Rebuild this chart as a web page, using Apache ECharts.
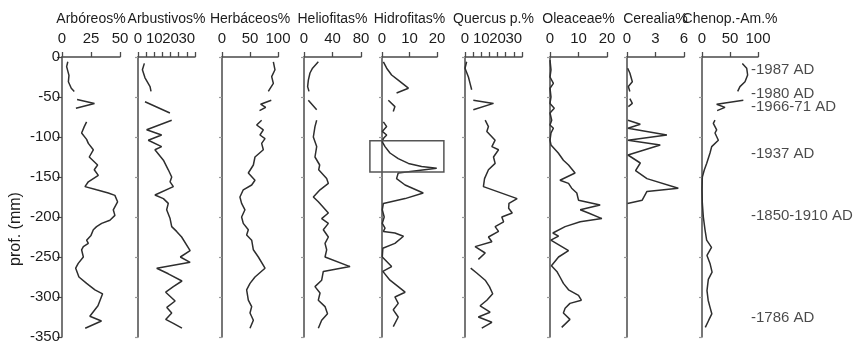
<!DOCTYPE html>
<html>
<head>
<meta charset="utf-8">
<script src="https://cdn.jsdelivr.net/npm/echarts@6/dist/echarts.min.js"></script>
<style>html,body{margin:0;padding:0;background:#fff;}#c{width:859px;height:349px;}</style>
</head>
<body>
<div id="c"></div>
<script>
// ---- DATA: [depth (mm), percentage]; null = gap in the record ----
const arboreos = [
[-6,5],[-12,4],[-23,6],[-31,5.5],[-39,8],[-43,10.6], null,
[-53,13],[-58,28],[-64,12], null,
[-81,21.2],[-87,19.2],[-95,16.9],[-103,21.2],[-108,22.7],[-116,27],[-125,23.5],[-135,30.7],[-141,27.8],[-148,31.3],[-156,22.7],[-162,19.8],[-166,29.8],[-170,39.9],[-173,45.6],[-181,47.9],[-191,44.2],[-198,45.6],[-204,41.3],[-208,34.2],[-212,29.8],[-216,27],[-223,25],[-229,21.2],[-233,22.7],[-237,18.4],[-241,16.9],[-250,18.4],[-258,14],[-264,11.8],[-275,14.6],[-283,21.2],[-291,28.4],[-296,35],[-311,31],[-324,24],[-330,34],[-339,20]
];
const arbustivos = [
[-8,3.9],[-16,2.7],[-26,4.3],[-37,7.4],[-43,8], null,
[-56,4.3],[-70,19.6], null,
[-79,20.7],[-91,5.3],[-97.5,14.5],[-104,6.3],[-112,14.5],[-116,10.4],[-129,15.6],[-141,18.6],[-150,20.7],[-156,19.7],[-162,21.7],[-172.5,10.4],[-177,15.6],[-183,18.6],[-191,17.6],[-202,19.7],[-212,20.7],[-218,23.7],[-225,26.8],[-242,32],[-250,26],[-256.7,32],[-264,11.5],[-271,18.6],[-280,27],[-287,21.7],[-294,17],[-305,22.8],[-313,17.7],[-320,20.7],[-328,17],[-333,21.7],[-339,27]
];
const herbaceos = [
[-6,91.7],[-16,94.6],[-24.6,88.7],[-33,91.7],[-43,82.7], null,
[-54,88],[-59,69],[-63,78],[-67,67], null,
[-79,70.8],[-85,61.9],[-91,73.8],[-97.5,67.8],[-102,76.8],[-108,70.8],[-116,73.8],[-125,58.9],[-135,56],[-145,47],[-154,58.9],[-160,53],[-166,38],[-175,32],[-183,35],[-191,41],[-200,35],[-208,38],[-216,47],[-222.5,44],[-229,53],[-241,56],[-250,64.9],[-264,76.8],[-275,58.9],[-283,50],[-291,44],[-304,47],[-312,53],[-320,50],[-329,56],[-339,50]
];
const heliofitas = [
[-6,20.1],[-14,12],[-20,8.4],[-29,6.1],[-37,5.1],[-43,7], null,
[-54,6.1],[-66,17.8], null,
[-79,17.8],[-87,15.4],[-100,13.1],[-112,17.8],[-125,15.4],[-135,22],[-141,20.6],[-152,31.8],[-158,34.2],[-166,22.5],[-175,13.1],[-181,20.1],[-195,34.2],[-202,24.8],[-208,34.2],[-216,27.1],[-225,34.2],[-233,29.5],[-241,31.8],[-250,29.5],[-262,64.6],[-268,27.1],[-279,24.8],[-287,15.4],[-295,22.5],[-304,20.1],[-312,29.5],[-321,33],[-329,24.8],[-339,20.1]
];
const hidrofitas = [
[-6,0.5],[-14,1.7],[-22.5,3.5],[-29,5.9],[-39,9.6],[-45,5.3], null,
[-54,2.3],[-62,4.7],[-68,4.1], null,
[-81,0.5],[-87,1.7],[-93,0.1],[-97.5,1.7],[-102,0.5],[-106,0.1],[-112,1.1],[-120,2.9],[-127,5.9],[-133,9.6],[-137,14.4],[-139,19.9],[-145,5.9],[-152,5.3],[-160,8.4],[-170,15],[-177,8.4],[-183,0.5],[-191,0.1],[-200,0.8],[-208,0.1],[-214,1.1],[-218,0.5],[-220,4.7],[-224,7.8],[-233,4.7],[-239,0.3],[-250,0.1],[-262,3.5],[-268,0.3],[-279,2.9],[-287,5.9],[-294,8.4],[-300,4.7],[-308,5.9],[-316,4.1],[-325,5.9],[-337,4.1]
];
const quercus = [
[-6,1],[-14,0],[-25,2.1],[-33,3.1],[-41,4.1], null,
[-54,5.1],[-58,17.5],[-66,5.1], null,
[-79,12.4],[-87,14.4],[-93,13.4],[-104,18.5],[-112,16.5],[-116,20.6],[-125,17.5],[-133,18.5],[-141,14.4],[-152,12],[-162,11.3],[-177,32],[-183,27],[-189,26.8],[-195,29],[-200,22.6],[-206,23.7],[-212,18.5],[-218,20.6],[-225,14.4],[-231,16.5],[-237,6.2],[-245,12.4],[-253,8.2], null,
[-264,3.5],[-270,7.2],[-279,12.4],[-287,15],[-296,17],[-304,13.4],[-311,9.3],[-319,15.4],[-325,8.2],[-331.6,16.5],[-339,10.3]
];
const oleaceae = [
[-4,0],[-16,0.35],[-25,0],[-33,1.2],[-39,0],[-50,0.35],[-58,0],[-64,1.5],[-70,0],[-79,0.6],[-85,0],[-89,1.2],[-95,0.35],[-104,0],[-110,0.35],[-120,2.9],[-129,4.7],[-135,6.5],[-145,8.8],[-154,3.5],[-158,6.5],[-164,7.6],[-170,9.4],[-179,10],[-185,17.6],[-191,10.6],[-195,13.5],[-202,18.2],[-206,10.6],[-212,5.3],[-220,1],[-224,3],[-229,0.3],[-242,6.5],[-250,3],[-261,0.5],[-268,2.4],[-275,3.5],[-283,4.7],[-291,6.5],[-298,10],[-304,11],[-308,7],[-314,5.3],[-320,4.7],[-328,7],[-338,4.1]
];
const cerealia = [
[-14,0.07],[-20,0.3],[-31,0.56],[-37,0.14],[-43,0.3], null,
[-52,0.3],[-58,0.56],[-62,0.14], null,
[-79,0.1],[-84,1.4],[-89,0.1],[-97.5,4.2],[-104,0.1],[-110,3.5],[-122.5,0.1],[-132.5,1.4],[-142,0.9],[-152,2.1],[-164,5.4],[-168,2.1],[-179,1.6],[-183,0.05]
];
const chenop = [
[-8,72],[-14,79.8],[-22.5,81.5],[-31,76.8],[-37,67.8],[-43,63.7], null,
[-54,73.8],[-59,26.2],[-63,41],[-67,27], null,
[-79,23.2],[-83,20.2],[-91,26.2],[-95,23.2],[-104,29.2],[-112,17.3],[-120,14.3],[-133,8.3],[-141,4.2],[-150,0.6],[-166,0],[-183,0.6],[-200,2.4],[-216,5.4],[-229,8.3],[-238,17],[-248,8.9],[-258,14.3],[-269,18],[-278,11.3],[-292,8.9],[-304,11],[-312,14],[-321,17.5],[-329,12],[-338,5.9]
];
const ageDepths = [-16, -46, -62.5, -120.6, -199, -325.6];
const ageLabels = ['-1987 AD', '-1980 AD', '-1966-71 AD', '-1937 AD', '-1850-1910 AD', '-1786 AD'];
const boxCorners = [[-4.4, -104.6], [22.5, -143.8]]; // highlighted interval in Hidrofitas (value, depth)

// ---- LAYOUT ----
const FONT = "'Liberation Sans',Arial,sans-serif";
const TXT = '#1c1c1c', AX = '#4a4a4a', LN = '#2e2e2e';
const panels = [
  {title:'Arbóreos%',   data:arboreos,   max:50,  interval:25, left:62,  width:58},
  {title:'Arbustivos%', data:arbustivos, max:35,  interval:5,  left:138, width:57, every:10},
  {title:'Herbáceos%',  data:herbaceos,  max:100, interval:50, left:222, width:56},
  {title:'Heliofitas%', data:heliofitas, max:80,  interval:40, left:304, width:57},
  {title:'Hidrofitas%', data:hidrofitas, max:20,  interval:10, left:382, width:55, box:true},
  {title:'Quercus p.%', data:quercus,    max:35,  interval:5,  left:465, width:57, every:10},
  {title:'Oleaceae%',   data:oleaceae,   max:20,  interval:10, left:550, width:57},
  {title:'Cerealia%',   data:cerealia,   max:6,   interval:3,  left:627, width:57},
  {title:'Chenop.-Am.%',data:chenop,     max:100, interval:50, left:702, width:56}
];
const TOP = 57, H = 280;
const option = {animation:false, backgroundColor:'#fff', grid:[], xAxis:[], yAxis:[], series:[]};
let boxGrid = -1;
panels.forEach((p, i) => {
  option.grid.push({left:p.left, width:p.width, top:TOP, height:H});
  option.xAxis.push({
    gridIndex:i, type:'value', position:'top', min:0, max:p.max, interval:p.interval,
    name:p.title, nameLocation:'middle', nameGap:31,
    nameTextStyle:{fontSize:14, color:TXT, fontFamily:FONT},
    axisLine:{show:true, onZero:false, lineStyle:{color:AX, width:1.5}},
    axisTick:{show:true, length:5, lineStyle:{color:AX, width:1.3}},
    axisLabel:{fontSize:15, color:TXT, fontFamily:FONT, margin:11,
      formatter: p.every ? (v => (v % p.every === 0 ? String(v) : '')) : (v => String(v))},
    splitLine:{show:false}
  });
  option.yAxis.push({
    gridIndex:i, type:'value', min:-350, max:0, interval:50,
    name: i === 0 ? 'prof. (mm)' : '', nameLocation:'middle', nameGap:38,
    nameTextStyle:{fontSize:16, color:TXT, fontFamily:FONT, padding:[0,64,0,0]},
    axisLine:{show:true, onZero:false, lineStyle:{color:AX, width:1.5}},
    axisTick:{show:true, length: i === 0 ? 5 : 3, lineStyle:{color: i === 0 ? AX : '#9a9a9a', width:1.2}},
    axisLabel:{show: i === 0, fontSize:15, color:TXT, fontFamily:FONT, margin:2},
    splitLine:{show:false}
  });
  option.series.push({
    type:'line', xAxisIndex:i, yAxisIndex:i, showSymbol:false, connectNulls:false,
    lineStyle:{color:LN, width:1.5}, silent:true,
    data: p.data.map(d => d ? [d[1], d[0]] : ['-', '-'])
  });
  if (p.box) boxGrid = i;
});
// age annotations on the right
const ai = panels.length;
option.grid.push({left:750, width:100, top:TOP, height:H});
option.xAxis.push({gridIndex:ai, type:'value', min:0, max:1, show:false});
option.yAxis.push({gridIndex:ai, type:'value', min:-350, max:0, show:false});
option.series.push({
  type:'scatter', xAxisIndex:ai, yAxisIndex:ai, symbolSize:0, silent:true,
  data: ageDepths.map((d, k) => ({value:[0, d], name:ageLabels[k]})),
  label:{show:true, position:'right', distance:1, formatter:'{b}', fontSize:15, color:TXT, fontFamily:FONT}
});
const chart = echarts.init(document.getElementById('c'), null, {renderer:'canvas'});
chart.setOption(option);
// rectangle marking the Hidrofitas interval, placed through the panel's own scales
if (boxGrid >= 0) {
  const p1 = chart.convertToPixel({gridIndex:boxGrid}, boxCorners[0]);
  const p2 = chart.convertToPixel({gridIndex:boxGrid}, boxCorners[1]);
  chart.setOption({graphic:[{type:'rect', silent:true, z:10,
    shape:{x:Math.min(p1[0],p2[0]), y:Math.min(p1[1],p2[1]), width:Math.abs(p2[0]-p1[0]), height:Math.abs(p2[1]-p1[1])},
    style:{fill:'none', stroke:'#555', lineWidth:1.5}}]});
}
</script>
</body>
</html>
